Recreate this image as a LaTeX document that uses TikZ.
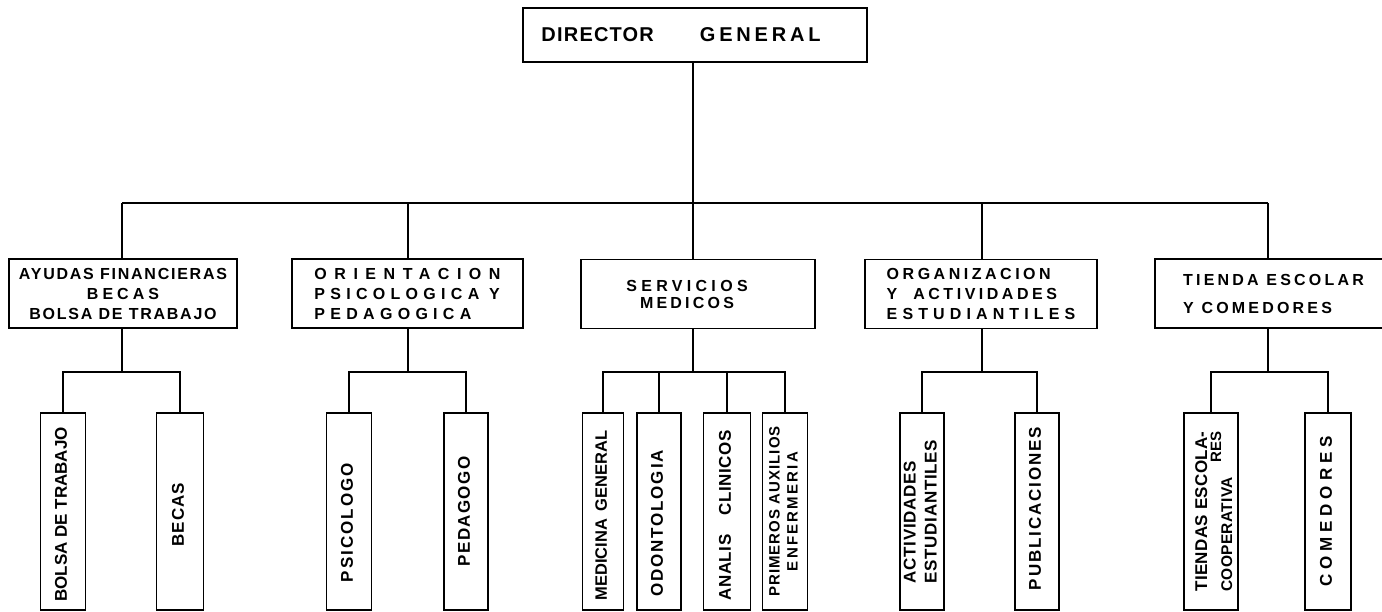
\documentclass[tikz,border=0pt]{standalone}
\usepackage{fontspec}
\setmainfont{Liberation Sans}
\usepackage{graphicx}

\newcommand{\vtxt}[2][c]{\rotatebox{90}{\begin{tabular}{@{}#1@{}}#2\end{tabular}}}

\begin{document}
\begin{tikzpicture}[x=1pt,y=-1pt,line width=1.5pt,
	box/.style={draw,inner sep=0pt,line width=1.6pt},
	jefe/.style={box,minimum width=344,minimum height=54,font=\fontsize{20}{22}\selectfont\bfseries},
	area/.style={box,minimum height=69,align=center},
	sec/.style={box,minimum height=197},
	ls/.style={font={\fontsize{16}{20}\selectfont\bfseries\addfontfeatures{LetterSpace=#1}}},
	vs/.style={font={\fontsize{17}{19}\selectfont\bfseries\addfontfeatures{LetterSpace=#1}}}]
	\useasboundingbox (0,0) rectangle (1382,612);

	\node[jefe] (dir) at (695,35) {{\addfontfeatures{LetterSpace=6}DIRECTOR}\hspace{46pt}{\addfontfeatures{LetterSpace=19}GENERAL}\kern28pt};

	\node[area,ls=11,minimum width=228] (ayu) at (123,293.5) {AYUDAS FINANCIERAS\\{\addfontfeatures{LetterSpace=25}BECAS}\\BOLSA DE TRABAJO};
	\node[area,ls=33,align=left,minimum width=231] (ori) at (407.5,293.5) {{\addfontfeatures{LetterSpace=47}ORIENTACION}\\PSICOLOGICA Y\\PEDAGOGICA};
	\node[area,ls=27,minimum width=234] (ser) at (698,294) {SERVICIOS\kern22pt\\[-3pt]{\addfontfeatures{LetterSpace=20}MEDICOS}\kern22pt};
	\node[area,ls=22,align=left,minimum width=232] (org) at (981,294) {ORGANIZACION\\Y\hspace{8pt} ACTIVIDADES\\{\addfontfeatures{LetterSpace=32}ESTUDIANTILES}};
	\node[area,ls=20,align=left,minimum width=237] (tie) at (1273.5,293.5) {TIENDA ESCOLAR\\[8pt]Y COMEDORES};

	\node[sec,vs=0,minimum width=45] (bol) at (63,511.5) {\vtxt{BOLSA DE TRABAJO\kern6pt}};
	\node[sec,vs=6,minimum width=47] (bec) at (180,511.5) {\vtxt{BECAS\kern6pt}};
	\node[sec,vs=12,minimum width=45] (psi) at (349,511.5) {\vtxt{PSICOLOGO\kern22pt}};
	\node[sec,vs=8,minimum width=44] (ped) at (466,511.5) {\vtxt{PEDAGOGO}};
	\node[sec,vs=0,minimum width=41,font={\fontsize{16.5}{19}\selectfont\bfseries}] (med) at (603,511.5) {\vtxt{MEDICINA\hspace{3pt} GENERAL\kern8pt}};
	\node[sec,vs=11,minimum width=44] (odo) at (659,511.5) {\vtxt{ODONTOLOGIA\kern24pt}};
	\node[sec,vs=3,minimum width=47] (ana) at (727,511.5) {\vtxt{ANALIS\hspace{14pt} CLINICOS\kern8pt}};
	\node[sec,minimum width=45,font={\fontsize{15}{18}\selectfont\bfseries\addfontfeatures{LetterSpace=7}}] (pri) at (785,511.5) {\vtxt{PRIMEROS AUXILIOS\\{\addfontfeatures{LetterSpace=15}ENFERMERIA}}};
	\node[sec,minimum width=44,font={\fontsize{17}{21}\selectfont\bfseries\addfontfeatures{LetterSpace=4}}] (act) at (922,511.5) {\vtxt[l]{ACTIVIDADES\\ESTUDIANTILES}};
	\node[sec,vs=11,minimum width=44] (pub) at (1037,511.5) {\vtxt{\kern6pt PUBLICACIONES}};
	\node[sec,vs=2,minimum width=45] (tco) at (1211,511.5) {\vtxt[l]{\rule{0pt}{23pt}TIENDAS ESCOLA-\\[-5pt]\hfill{\fontsize{15}{17}\selectfont RES}\\[-8pt]{\fontsize{15.5}{17}\selectfont COOPERATIVA}}};
	\node[sec,vs=29,minimum width=46] (com) at (1328,511.5) {\vtxt{COMEDORES}};

	% bus principal
	\coordinate (j1) at (122,203);
	\coordinate (j2) at (408,203);
	\coordinate (j3) at (693,203);
	\coordinate (j4) at (982,203);
	\coordinate (j5) at (1268,203);
	\draw (dir.south -| j3)--(j3);
	\draw (j1)--(j5);
	\draw (j1)--(j1 |- ayu.north);
	\draw (j2)--(j2 |- ori.north);
	\draw (j3)--(j3 |- ser.north);
	\draw (j4)--(j4 |- org.north);
	\draw (j5)--(j5 |- tie.north);

	% ramas
	\coordinate (k1) at (122,372);
	\coordinate (k2) at (408,372);
	\coordinate (k3) at (693,372);
	\coordinate (k4) at (982,372);
	\coordinate (k5) at (1268,372);

	\draw (ayu.south -| k1)--(k1);
	\draw (bol.north)--(bol.north |- k1)--(bec.north |- k1)--(bec.north);

	\draw (ori.south -| k2)--(k2);
	\draw (psi.north)--(psi.north |- k2)--(ped.north |- k2)--(ped.north);

	\draw (ser.south -| k3)--(k3);
	\draw (med.north)--(med.north |- k3)--(pri.north |- k3)--(pri.north);
	\draw (odo.north)--(odo.north |- k3);
	\draw (ana.north)--(ana.north |- k3);

	\draw (org.south -| k4)--(k4);
	\draw (act.north)--(act.north |- k4)--(pub.north |- k4)--(pub.north);

	\draw (tie.south -| k5)--(k5);
	\draw (tco.north)--(tco.north |- k5)--(com.north |- k5)--(com.north);
\end{tikzpicture}
\end{document}
